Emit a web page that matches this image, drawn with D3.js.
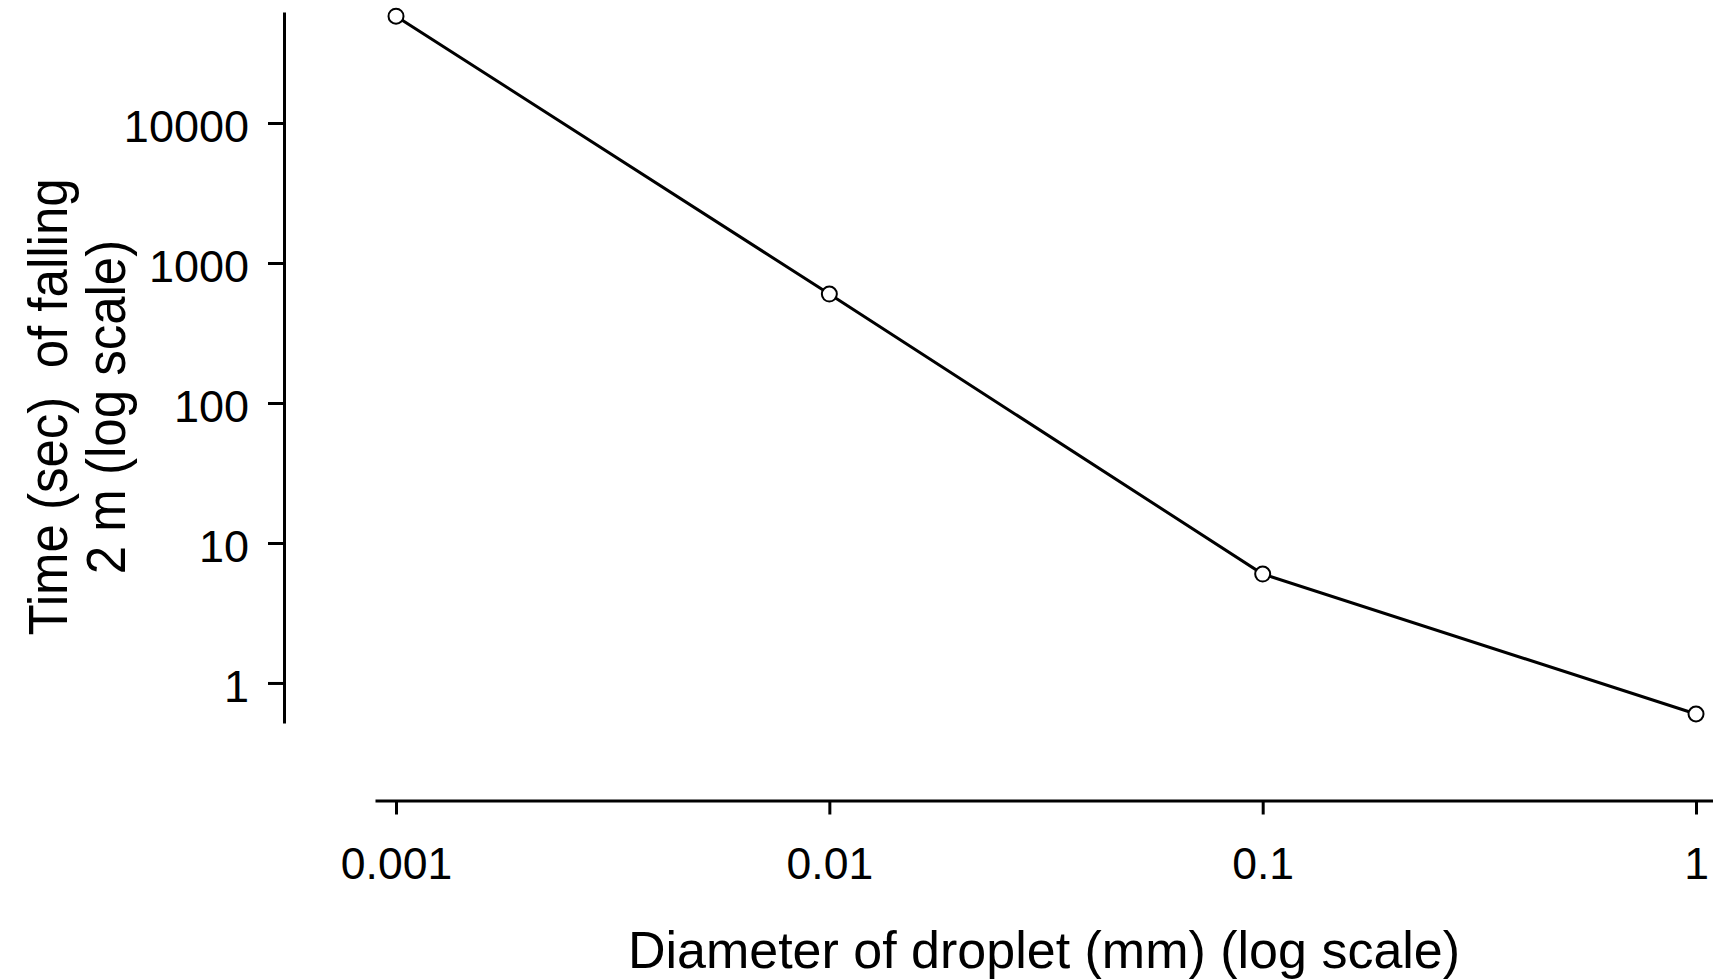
<!DOCTYPE html>
<html>
<head>
<meta charset="utf-8">
<script src="https://cdn.jsdelivr.net/npm/d3@7"></script>
<style>
  html, body { margin: 0; padding: 0; background: #fff; }
  svg { display: block; }
  text { font-family: "Liberation Sans", Arial, sans-serif; fill: #000; }
</style>
</head>
<body>
<div id="chart"></div>
<script>
// Data
const diameters = [0.001, 0.01, 0.1, 1];          // mm
const fallTimes = [58000, 600, 6, 0.6];            // seconds
const xTickValues = [0.001, 0.01, 0.1, 1];
const xTickLabels = ["0.001", "0.01", "0.1", "1"];
const yTickValues = [1, 10, 100, 1000, 10000];
const yTickLabels = ["1", "10", "100", "1000", "10000"];
const xTitle = "Diameter of droplet (mm) (log scale)";
const yTitleLines = ["Time (sec)  of falling", "2 m (log scale)"];

const W = 1713, H = 980;
const svg = d3.select("#chart").append("svg").attr("width", W).attr("height", H);

// scales: 1 decade = 433.33 px on x, 140 px on y
const x = d3.scaleLog().domain([Math.pow(10, -3.0485), Math.pow(10, 0.0392)]).range([375, 1713]);
const y = d3.scaleLog().domain([Math.pow(10, -0.286), Math.pow(10, 4.793)]).range([723, 12]);

// Y axis
const yAxis = d3.axisLeft(y).tickValues(yTickValues)
  .tickFormat((d, i) => yTickLabels[i]).tickSize(16).tickSizeOuter(0).tickPadding(19);
const gy = svg.append("g").attr("transform", "translate(284,0)").call(yAxis);
gy.select(".domain").attr("stroke", "#000").attr("stroke-width", 3);
gy.selectAll(".tick line").attr("stroke", "#000").attr("stroke-width", 3);
gy.selectAll(".tick text").attr("font-size", 45).attr("dy", "0.42em")
  .style("font-family", "'Liberation Sans', Arial, sans-serif").attr("fill", "#000");

// X axis
const xAxis = d3.axisBottom(x).tickValues(xTickValues)
  .tickFormat((d, i) => xTickLabels[i]).tickSize(14).tickSizeOuter(0).tickPadding(0);
const gx = svg.append("g").attr("transform", "translate(0,800.5)").call(xAxis);
gx.select(".domain").attr("stroke", "#000").attr("stroke-width", 3);
gx.selectAll(".tick line").attr("stroke", "#000").attr("stroke-width", 3);
gx.selectAll(".tick text").attr("font-size", 44.5).attr("dy", null).attr("y", 78)
  .style("font-family", "'Liberation Sans', Arial, sans-serif").attr("fill", "#000");

// Titles
svg.append("text").attr("x", 1044).attr("y", 968).attr("text-anchor", "middle")
  .attr("font-size", 52).text(xTitle);
const baselines = [67, 125];
yTitleLines.forEach((t, i) => {
  svg.append("text")
    .attr("transform", `translate(${baselines[i]},407) rotate(-90) scale(1,1.1)`)
    .attr("text-anchor", "middle").attr("font-size", 51)
    .style("white-space", "pre").text(t);
});

// Line + points
const pts = diameters.map((d, i) => ({ d, t: fallTimes[i] }));
svg.append("path").datum(pts)
  .attr("fill", "none").attr("stroke", "#000").attr("stroke-width", 3)
  .attr("d", d3.line().x(p => x(p.d)).y(p => y(p.t)));
svg.selectAll("circle.pt").data(pts).enter().append("circle")
  .attr("class", "pt").attr("cx", p => x(p.d)).attr("cy", p => y(p.t))
  .attr("r", 7.5).attr("fill", "#fff").attr("stroke", "#000").attr("stroke-width", 2);
</script>
</body>
</html>
